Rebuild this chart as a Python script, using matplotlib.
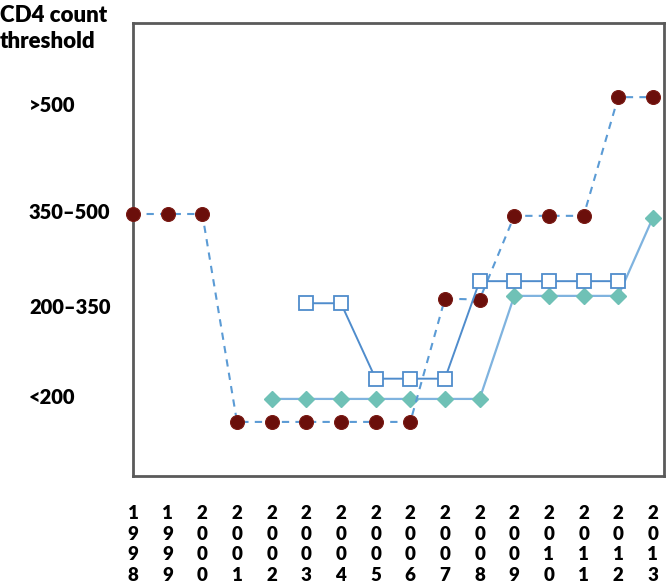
import matplotlib
matplotlib.use("Agg")
import matplotlib.pyplot as plt
import matplotlib.transforms as mtransforms

years = list(range(1998, 2014))

# threshold levels (category positions: <200=1, 200-350=2, 350-500=3, >500=4)
level_labels = [">500", "350\u2013500", "200\u2013350", "<200"]
level_pos = [4.18, 3.02, 1.98, 1.0]

# series 1 (dark red circles, dashed line)
red_years = list(range(1998, 2014))
red_vals = [3.0, 3.0, 3.0, 0.74, 0.74, 0.74, 0.74, 0.74, 0.74, 2.08, 2.07,
            2.98, 2.98, 2.98, 4.27, 4.27]

# series 2 (open blue squares)
sq_years = list(range(2003, 2013))
sq_vals = [2.03, 2.03, 1.21, 1.21, 1.21, 2.27, 2.27, 2.27, 2.27, 2.27]

# series 3 (teal diamonds)
dm_years = list(range(2002, 2014))
dm_vals = [0.99, 0.99, 0.99, 0.99, 0.99, 0.99, 0.99, 2.11, 2.11, 2.11, 2.11, 2.96]

plt.rcParams['font.family'] = ['Lato', 'DejaVu Sans']

fig = plt.figure(figsize=(6.66, 5.88), dpi=100)
ax = fig.add_axes([133/666, 1-476/588, (664-133)/666, (476-23)/588])

ax.plot(red_years, red_vals, linestyle=(0, (3.5, 3)), color='#5b9bd5', lw=1.5,
        marker='o', markersize=10, markerfacecolor='#6b0f0b',
        markeredgecolor='#7a1a14', markeredgewidth=0.8, zorder=3, clip_on=False)
ax.plot(dm_years, dm_vals, linestyle='-', color='#7fb3df', lw=1.6,
        marker='D', markersize=8.5, markerfacecolor='#6fc1b6',
        markeredgecolor='#6fc1b6', zorder=2, clip_on=False)
ax.plot(sq_years, sq_vals, linestyle='-', color='#4f8ccc', lw=1.4,
        marker='s', markersize=10, markerfacecolor='white',
        markeredgecolor='#4f8ccc', markeredgewidth=1.3, zorder=4, clip_on=False)

ax.set_xlim(1998, 2013.32)
ax.set_ylim(1 - (476-398)/92, 1 + (398-23)/92)

ax.set_yticks([])
ax.set_xticks(years)
ax.set_xticklabels(['\n'.join(str(y)) for y in years], fontsize=13.5,
                   fontweight='heavy', linespacing=1.26, va='top')
ax.tick_params(axis='x', length=0, pad=21)

for s in ax.spines.values():
    s.set_color('#5a5a5a')
    s.set_linewidth(2)

trans = mtransforms.blended_transform_factory(fig.transFigure, ax.transData)
for lab, pos in zip(level_labels, level_pos):
    ax.text(29/666, pos, lab, transform=trans,
            ha='left', va='center', fontsize=14.5, fontweight='heavy')

fig.text(0.0, 1 - 15/588, "CD4 count", ha='left', va='center', fontsize=16, fontweight='heavy')
fig.text(0.0, 1 - 42/588, "threshold", ha='left', va='center', fontsize=16, fontweight='heavy')

fig.savefig("out.png", dpi=100)
